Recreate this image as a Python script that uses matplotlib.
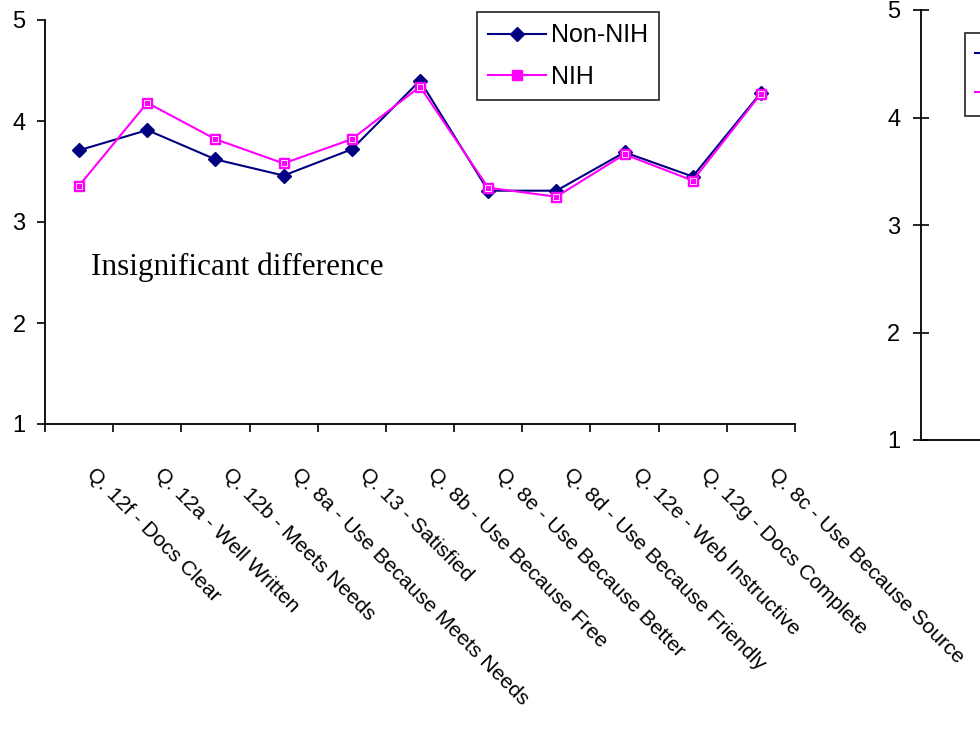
import numpy as np
import matplotlib.pyplot as plt
from matplotlib.lines import Line2D
import matplotlib.transforms as mtransforms

plt.rcParams['font.family'] = ['Liberation Sans', 'DejaVu Sans']

# preguntas de la encuesta
preguntas = ['Q. 12f - Docs Clear', 'Q. 12a - Well Written', 'Q. 12b - Meets Needs',
             'Q. 8a - Use Because Meets Needs', 'Q. 13 - Satisfied',
             'Q. 8b - Use Because Free', 'Q. 8e - Use Because Better',
             'Q. 8d - Use Because Friendly', 'Q. 12e - Web Instructive',
             'Q. 12g - Docs Complete', 'Q. 8c - Use Because Source']

# promedios por grupo
non_nih = [3.71, 3.91, 3.62, 3.46, 3.72, 4.40, 3.31, 3.31, 3.69, 3.45, 4.28]
nih = [3.36, 4.18, 3.82, 3.58, 3.82, 4.34, 3.34, 3.25, 3.67, 3.41, 4.27]

azul = '#000080'
magenta = '#FF00FF'

fig = plt.figure(figsize=(9.8, 7.3), dpi=100)

# grafico izquierdo
ax = fig.add_axes([45/980, 1-424/730, 750/980, 404/730])
x = np.arange(len(preguntas))
ax.plot(x, non_nih, color=azul, lw=1.5, marker='D', ms=7, mfc=azul, mec=azul,
        label='Non-NIH')
ax.plot(x, nih, color=magenta, lw=1.5, marker='s', ms=7.5, mfc=magenta, mec=magenta,
        label='NIH')
# detalle blanco dentro del cuadrado
ax.plot(x, nih, ls='none', marker='s', ms=4.5, mfc='none', mec='white', mew=0.6)

ax.set_xlim(-0.5, len(preguntas)-0.5)
ax.set_ylim(1, 5)
ax.set_yticks([1, 2, 3, 4, 5])
ax.set_xticks(np.arange(len(preguntas)+1)-0.5, minor=False)
ax.set_xticklabels([])
ax.set_xticks(x, minor=True)
ax.set_xticklabels(preguntas, minor=True, rotation=-45, ha='left', va='top',
                   fontsize=15.2)
ax.tick_params(axis='x', which='minor', length=0, pad=29)
ax.tick_params(axis='x', which='major', length=6, width=1.2, direction='out')
ax.tick_params(axis='y', length=6, width=1.2, direction='out', labelsize=17, pad=8)
desplaza = mtransforms.ScaledTranslation(4/100, 0, fig.dpi_scale_trans)
for lbl in ax.get_xticklabels(minor=True):
    lbl.set_transform(lbl.get_transform() + desplaza)
for lado in ['top', 'right']:
    ax.spines[lado].set_visible(False)
for lado in ['left', 'bottom']:
    ax.spines[lado].set_linewidth(1.3)

ax.text(0.18, 2.55, 'Insignificant difference', family=['Liberation Serif', 'DejaVu Serif'],
        fontsize=22.5, va='center')

leg = ax.legend(loc='upper left', bbox_to_anchor=(477/980, 1-12/730),
                bbox_transform=fig.transFigure, fontsize=18, frameon=True,
                fancybox=False, edgecolor='black', handlelength=2.3,
                handletextpad=0.2, borderpad=0.45, labelspacing=0.7,
                borderaxespad=0)
leg.get_frame().set_linewidth(1.3)

# grafico derecho (cortado en el borde)
ax2 = fig.add_axes([921/980, 1-440/730, 0.8, 430/730])
ax2.set_ylim(1, 5)
ax2.set_yticks([1, 2, 3, 4, 5])
ax2.set_xticks([])
ax2.tick_params(axis='y', length=12, width=1.2, direction='inout', labelsize=17, pad=9)
for lado in ['top', 'right']:
    ax2.spines[lado].set_visible(False)
for lado in ['left', 'bottom']:
    ax2.spines[lado].set_linewidth(1.3)
h = [Line2D([], [], color=azul, lw=1.5, marker='D', ms=7),
     Line2D([], [], color=magenta, lw=1.5, marker='s', ms=7.5)]
leg2 = ax2.legend(h, ['', ''], loc='upper left',
                  bbox_to_anchor=(965/980, 1-33/730), bbox_transform=fig.transFigure,
                  fontsize=18, fancybox=False, edgecolor='black', handlelength=3.4,
                  borderpad=0.4, labelspacing=0.6, borderaxespad=0)
leg2.get_frame().set_linewidth(1.3)

fig.savefig('out.png', dpi=100)
